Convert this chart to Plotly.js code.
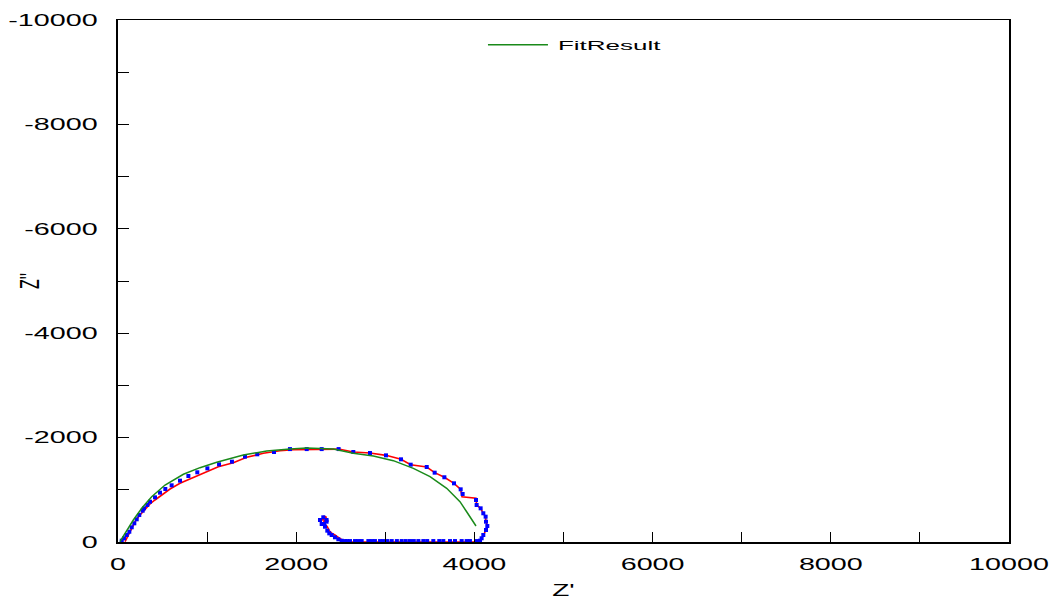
<!DOCTYPE html>
<html>
<head>
<meta charset="utf-8">
<script src="https://cdn.plot.ly/plotly-3.0.1.min.js"></script>
<style>body{margin:0;background:#fff;}</style>
</head>
<body>
<div id="chart" style="width:1049px;height:600px;"></div>
<script>
// Measured data (blue markers), in order
const dataX = [42, 67, 98, 127, 154, 183, 210, 239, 277, 292, 329, 359, 415, 471, 531, 602, 696, 790, 890, 1003, 1134, 1279, 1425, 1563, 1751, 1930, 2118, 2286, 2476, 2641, 2828, 3008, 3176, 3285, 3465, 3554, 3663, 3771, 3846, 3868, 4018, 4025, 4070, 4100, 4126, 4130, 4145, 4130, 4100, 4081, 4063,
  4018, 3950, 3913, 3857, 3782, 3726, 3651, 3606, 3539, 3470, 3427, 3371, 3320, 3277, 3230, 3184, 3130, 3072, 3023, 2978, 2941, 2884, 2847, 2810, 2735, 2697, 2660, 2604, 2570,
  2548, 2510, 2473, 2435, 2398, 2371, 2349, 2323, 2286, 2312, 2341, 2267, 2341, 2304];
const dataY = [-25, -71, -134, -197, -282, -358, -435, -517, -600, -645, -709, -772, -856, -945, -1015, -1086, -1175, -1264, -1335, -1411, -1488, -1539, -1635, -1680, -1724, -1780, -1780, -1780, -1780, -1724, -1705, -1660, -1584, -1481, -1437, -1328, -1240, -1124, -1009, -920, -805, -709, -645, -550, -485, -389, -306, -230, -134, -71, -25,
  -18, -18, -18, -18, -18, -18, -18, -18, -18, -18, -18, -18, -18, -18, -18, -18, -18, -18, -18, -18, -18, -18, -18, -18, -18, -18, -18, -18, -18, -18,
  -25, -52, -90, -134, -166, -217, -293, -345, -345, -389, -421, -421, -473, -498];

// Measured data line (red)
const lineX = [79, 116, 154, 202, 247, 303, 359, 415, 490, 584, 696, 826, 957, 1126, 1294, 1444, 1631, 1818, 1968, 2118, 2286, 2476, 2641, 2828, 3008, 3176, 3285, 3465, 3554, 3663, 3771, 3846, 3861, 4018, 4025, 4070, 4100, 4126, 4130, 4145, 4130, 4100, 4081, 4063, 4063,
  2548, 2510, 2473, 2435, 2398, 2371, 2349, 2323, 2286, 2312, 2341, 2267, 2341, 2304];
const lineY = [-6, -134, -262, -421, -517, -626, -728, -805, -900, -1015, -1124, -1220, -1316, -1443, -1520, -1622, -1699, -1749, -1768, -1768, -1780, -1780, -1724, -1705, -1660, -1584, -1481, -1437, -1328, -1240, -1124, -1009, -868, -837, -709, -645, -550, -485, -389, -306, -230, -134, -71, -25, 0,
  0, -52, -90, -134, -166, -217, -293, -345, -345, -389, -421, -421, -473, -498];

// Fit result (green)
const fitX = [22, 98, 172, 266, 378, 528, 734, 920, 1108, 1407, 1669, 1930, 2118, 2417, 2641, 2866, 3090, 3315, 3502, 3689, 3838, 3913, 3969, 4018];
const fitY = [-6, -230, -421, -645, -868, -1092, -1297, -1424, -1527, -1667, -1743, -1782, -1801, -1782, -1699, -1648, -1558, -1411, -1251, -1028, -772, -580, -421, -306];

const xTickVals = [0, 2000, 4000, 6000, 8000, 10000];
const xTickText = ['0', '2000', '4000', '6000', '8000', '10000'];
const xMinorVals = [1000, 3000, 5000, 7000, 9000];
const yTickVals = [0, -2000, -4000, -6000, -8000, -10000];
const yTickText = ['0', '-2000', '-4000', '-6000', '-8000', '-10000'];
const yMinorVals = [-1000, -3000, -5000, -7000, -9000];

const FONT = 'Liberation Sans, Arial, sans-serif';
const S = 1.74;
const ST = 1.75;
const SL = 2.0;

const traces = [
  {x: lineX, y: lineY, mode: 'lines', line: {color: '#ff0000', width: 1.6}, showlegend: false, name: 'Data'},
  {x: dataX, y: dataY, mode: 'markers', marker: {color: '#0000ff', size: 4, symbol: 'square'}, showlegend: false, name: 'Points'},
  {x: fitX, y: fitY, mode: 'lines', line: {color: '#1a8a1a', width: 1.5}, name: 'FitResult'}
];

const layout = {
  width: 1049, height: 600,
  margin: {l: 118, r: 40, t: 20, b: 58},
  paper_bgcolor: '#fff', plot_bgcolor: '#fff',
  font: {family: FONT, color: '#000', size: 16.5},
  showlegend: true,
  legend: {x: 0.404, y: 0.981, xanchor: 'left', yanchor: 'top', bgcolor: 'rgba(0,0,0,0)', font: {size: 13, family: FONT}},
  xaxis: {
    range: [0, 10000], showgrid: false, zeroline: false,
    showline: true, linecolor: '#000', linewidth: 1.5, mirror: true,
    ticks: 'inside', ticklen: 10, tickcolor: '#000', tickwidth: 1,
    tickmode: 'array', tickvals: xTickVals, ticktext: xTickText,
    minor: {tickmode: 'array', tickvals: xMinorVals, ticks: 'inside', ticklen: 10, tickcolor: '#000', tickwidth: 1},
    ticklabelstandoff: 7,
    tickfont: {size: 16.5, family: FONT},
    title: {text: "Z'", font: {size: 16, family: FONT}, standoff: 12}
  },
  yaxis: {
    range: [0, -10000], showgrid: false, zeroline: false,
    showline: true, linecolor: '#000', linewidth: 2, mirror: true,
    ticks: 'inside', ticklen: 11, tickcolor: '#000', tickwidth: 1,
    tickmode: 'array', tickvals: yTickVals, ticktext: yTickText,
    minor: {tickmode: 'array', tickvals: yMinorVals, ticks: 'inside', ticklen: 11, tickcolor: '#000', tickwidth: 1},
    ticklabelstandoff: 15,
    tickfont: {size: 16.5, family: FONT},
    title: {text: "Z''", font: {size: 16, family: FONT}, standoff: 3}
  }
};

function stretchText(gd) {
  function stretchAfter(t, s) {
    const x = parseFloat(t.getAttribute('x')) || 0;
    const tr = t.getAttribute('transform') || '';
    t.setAttribute('transform', tr + ' translate(' + x + ',0) scale(' + s + ',1) translate(' + (-x) + ',0)');
  }
  gd.querySelectorAll('.xtick text, .ytick text').forEach(function (t) { stretchAfter(t, S); });
  gd.querySelectorAll('.g-xtitle text').forEach(function (t) { stretchAfter(t, ST); });
  gd.querySelectorAll('.g-ytitle text').forEach(function (t) {
    const x = parseFloat(t.getAttribute('x')) || 0;
    const tr = t.getAttribute('transform') || '';
    t.setAttribute('transform', 'translate(' + x + ',0) scale(' + ST + ',1) translate(' + (-x) + ',0) ' + tr);
  });
  const lg = gd.querySelector('g.legend');
  if (lg) {
    const tr = lg.getAttribute('transform') || '';
    lg.setAttribute('transform', tr + ' scale(' + SL + ',1)');
  }
}

Plotly.newPlot('chart', traces, layout, {staticPlot: true, displayModeBar: false}).then(function (gd) {
  stretchText(gd);
});
</script>
</body>
</html>
